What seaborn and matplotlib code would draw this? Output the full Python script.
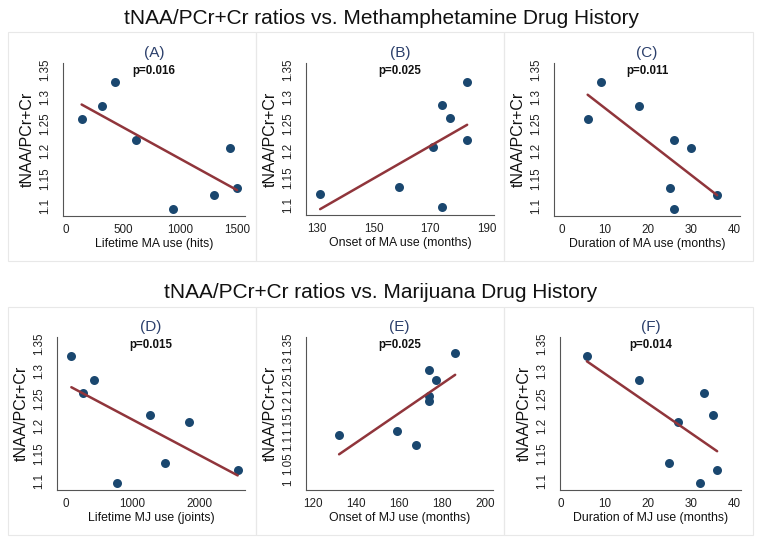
import matplotlib
matplotlib.use("Agg")
import matplotlib.pyplot as plt
from matplotlib.patches import Rectangle
import seaborn as sns
import pandas as pd

# ---------------- data ----------------
ma_lifetime = [140, 320, 430, 620, 940, 1300, 1440, 1500]
ratio_a = [1.260, 1.284, 1.327, 1.220, 1.095, 1.120, 1.207, 1.132]

ma_onset = [131, 159, 171, 174, 174, 177, 183, 183]
ratio_b = [1.120, 1.132, 1.207, 1.284, 1.095, 1.260, 1.327, 1.220]

ma_duration = [6, 9, 18, 26, 30, 25, 26, 36]
ratio_c = [1.260, 1.327, 1.284, 1.220, 1.207, 1.132, 1.095, 1.120]

mj_lifetime = [90, 265, 425, 1265, 775, 1490, 1855, 2580]
ratio_d = [1.327, 1.260, 1.284, 1.220, 1.095, 1.132, 1.207, 1.120]

mj_onset = [132, 159, 168, 174, 177, 174, 174, 186]
ratio_e = [1.120, 1.132, 1.095, 1.284, 1.260, 1.220, 1.207, 1.327]

mj_duration = [6, 18, 27, 33, 35, 25, 32, 36]
ratio_f = [1.327, 1.284, 1.207, 1.260, 1.220, 1.132, 1.095, 1.120]

panel_letters = ["(A)", "(B)", "(C)", "(D)", "(E)", "(F)"]
p_values = ["p=0.016", "p=0.025", "p=0.011", "p=0.015", "p=0.025", "p=0.014"]
x_labels = ["Lifetime MA use (hits)", "Onset of MA use (months)",
            "Duration of MA use (months)", "Lifetime MJ use (joints)",
            "Onset of MJ use (months)", "Duration of MJ use (months)"]
y_label = "tNAA/PCr+Cr"
row_titles = ["tNAA/PCr+Cr ratios vs. Methamphetamine Drug History",
              "tNAA/PCr+Cr ratios vs. Marijuana Drug History"]

x_ticks = [[0, 500, 1000, 1500], [130, 150, 170, 190], [0, 10, 20, 30, 40],
           [0, 1000, 2000], [120, 140, 160, 180, 200], [0, 10, 20, 30, 40]]
y_ticks_std = [1.1, 1.15, 1.2, 1.25, 1.3, 1.35]
y_labels_std = ["1.1", "1.15", "1.2", "1.25", "1.3", "1.35"]
y_ticks_e = [1.0, 1.05, 1.1, 1.15, 1.2, 1.25, 1.3, 1.35]
y_labels_e = ["1", "1.05", "1.1", "1.15", "1.2", "1.25", "1.3", "1.35"]

# ---------------- style ----------------
sns.set_style("white")
plt.rcParams["font.family"] = ["Liberation Sans", "DejaVu Sans"]

W, H = 762, 545
fig = plt.figure(figsize=(W / 100, H / 100), dpi=100)
fig.patch.set_facecolor("white")

DOT = "#1a476f"
LINE = "#90353b"
LETTER = "#2b3f6b"

def px_axes(x0, y0, x1, y1):
    return fig.add_axes([x0 / W, 1 - y1 / H, (x1 - x0) / W, (y1 - y0) / H])

# panel frames (light grey boxes)
for (bx0, by0, bx1, by1) in [(8, 32, 256, 261), (256, 32, 504, 261), (504, 32, 753, 261),
                             (8, 307, 256, 535), (256, 307, 504, 535), (504, 307, 753, 535)]:
    fig.add_artist(Rectangle((bx0 / W, 1 - by1 / H), (bx1 - bx0) / W, (by1 - by0) / H,
                             transform=fig.transFigure, fill=False,
                             edgecolor="#e8e8e8", linewidth=0.8))

axes_px = [(63, 63, 245, 216), (306, 63, 494, 215), (554, 63, 740, 216),
           (57, 337, 245, 490), (306, 337, 493, 490), (560, 337, 741, 490)]
xlims = [(-23, 1570), (126, 192.5), (-1.8, 41.3), (-125, 2690), (116.6, 203.6), (-0.2, 41.5)]
ylims = [(1.0816, 1.362), (1.0807, 1.362), (1.0816, 1.362),
         (1.083, 1.362), (0.983, 1.367), (1.083, 1.362)]

frames = [
    pd.DataFrame({"x": ma_lifetime, "y": ratio_a}),
    pd.DataFrame({"x": ma_onset, "y": ratio_b}),
    pd.DataFrame({"x": ma_duration, "y": ratio_c}),
    pd.DataFrame({"x": mj_lifetime, "y": ratio_d}),
    pd.DataFrame({"x": mj_onset, "y": ratio_e}),
    pd.DataFrame({"x": mj_duration, "y": ratio_f}),
]

for i, df in enumerate(frames):
    ax = px_axes(*axes_px[i])
    ax.set_facecolor("white")
    sns.regplot(data=df, x="x", y="y", ax=ax, ci=None, truncate=True,
                scatter_kws=dict(s=42, color=DOT, linewidths=0, alpha=1),
                line_kws=dict(color=LINE, lw=1.8))
    ax.set_xlim(*xlims[i])
    ax.set_ylim(*ylims[i])
    ax.set_xticks(x_ticks[i])
    ax.set_xticklabels([str(t) for t in x_ticks[i]])
    if i == 4:
        ax.set_yticks(y_ticks_e)
        ax.set_yticklabels(y_labels_e)
    else:
        ax.set_yticks(y_ticks_std)
        ax.set_yticklabels(y_labels_std)
    for s in ["top", "right"]:
        ax.spines[s].set_visible(False)
    for s in ["left", "bottom"]:
        ax.spines[s].set_color("#555555")
        ax.spines[s].set_linewidth(0.8)
    ax.tick_params(axis="both", direction="out", length=3.5, width=0.8,
                   color="#555555", labelsize=8.4, labelcolor="#222222")
    ax.tick_params(axis="x", pad=2)
    ax.tick_params(axis="y", pad=5, labelrotation=90)
    for lbl in ax.get_yticklabels():
        lbl.set_va("center")
    ax.set_xlabel(x_labels[i], fontsize=8.8, color="#111111", labelpad=2)
    ax.set_ylabel(y_label, fontsize=11.5, color="#111111", labelpad=3)
    ax.grid(False)
    # panel letter above the plot region
    ax.text(0.5, 1.0 + 10 / (axes_px[i][3] - axes_px[i][1]), panel_letters[i],
            transform=ax.transAxes, ha="center", va="center",
            fontsize=11, color=LETTER)
    ax.text(0.5, 1.0 - 8 / (axes_px[i][3] - axes_px[i][1]), p_values[i],
            transform=ax.transAxes, ha="center", va="center",
            fontsize=8.3, fontweight="bold", color="#111111")

fig.text(0.5, 1 - 18 / H, row_titles[0], ha="center", va="center", fontsize=15, color="#111111")
fig.text(0.5, 1 - 293 / H, row_titles[1], ha="center", va="center", fontsize=15, color="#111111")

fig.savefig("out.png", dpi=100, facecolor="white")
